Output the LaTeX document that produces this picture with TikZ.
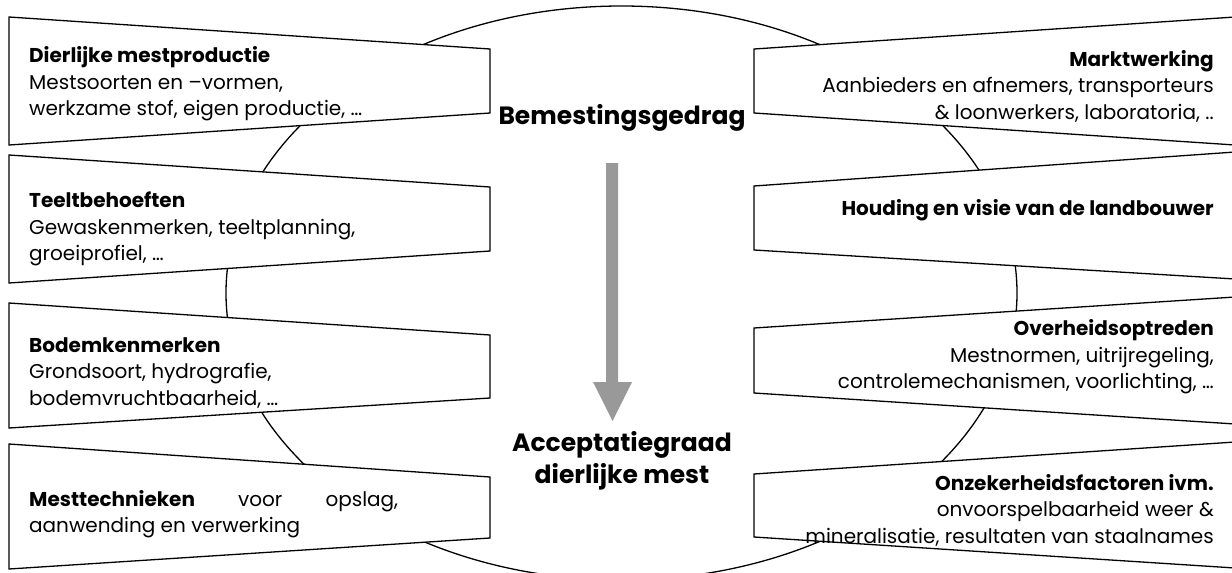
\documentclass[tikz,border=0pt]{standalone}
\usepackage{fontspec}
\setmainfont{Poppins}
\begin{document}
\begin{tikzpicture}[x=1pt,y=-1pt,
  boxshape/.style={draw=black,line width=1.3pt,fill=white,line join=miter},
  bodytext/.style={inner sep=0pt,font={\fontsize{20}{26.5}\selectfont}},
  lefttext/.style={bodytext,anchor=west,align=left},
  righttext/.style={bodytext,anchor=east,align=right},
  centertext/.style={inner sep=0pt,align=center,font={\fontsize{25}{32}\selectfont\bfseries}}]
\useasboundingbox (0,0) rectangle (1232,573);
\fill[white] (0,0) rectangle (1232,573);
% ellipse behind
\draw[line width=1.3pt] (621.5,293) ellipse [x radius=395.5pt, y radius=287pt];
% left boxes
\draw[boxshape] (9,17) -- (490,49) -- (490,113) -- (9,145) -- cycle;
\draw[boxshape] (9,155) -- (490,187) -- (490,251) -- (9,283) -- cycle;
\draw[boxshape] (9,303) -- (490,335) -- (490,398) -- (9,428) -- cycle;
\draw[boxshape] (9,444) -- (490,477) -- (490,538) -- (9,569) -- cycle;
% right boxes
\draw[boxshape] (754,49) -- (1235,17) -- (1235,145) -- (754,113) -- cycle;
\draw[boxshape] (754,186) -- (1235,152) -- (1235,279) -- (754,250) -- cycle;
\draw[boxshape] (754,328) -- (1235,297) -- (1235,424) -- (754,393) -- cycle;
\draw[boxshape] (754,474) -- (1235,442) -- (1235,568) -- (754,537) -- cycle;
% arrow
\fill[fill={rgb,255:red,153;green,153;blue,153}] (606,163) -- (618,163) -- (618,382) -- (632,382) -- (612.5,421) -- (593,382) -- (606,382) -- cycle;
% center texts
\node[centertext] (beh) at (622,118) {Bemestingsgedrag};
\node[centertext] (acc) at (622,461) {Acceptatiegraad\\dierlijke mest};
% left texts
\node[lefttext] (l1) at (29,84) {\textbf{Dierlijke mestproductie}\\Mestsoorten en –vormen,\\werkzame stof, eigen productie, …};
\node[lefttext] (l2) at (29,229) {\textbf{Teeltbehoeften}\\Gewaskenmerken, teeltplanning,\\groeiprofiel, …};
\node[lefttext] (l3) at (29,373) {\textbf{Bodemkenmerken}\\Grondsoort, hydrografie,\\bodemvruchtbaarheid, …};
\node[bodytext,anchor=west,text width=369pt,align=justify] (l4) at (29,514) {\textbf{Mesttechnieken} voor opslag,\linebreak aanwending en verwerking};
% right texts
\node[righttext] (r1) at (1214,86) {\textbf{Marktwerking}\\Aanbieders en afnemers, transporteurs\\\& loonwerkers, laboratoria, ..};
\node[righttext] (r2) at (1214,210) {\textbf{Houding en visie van de landbouwer}};
\node[righttext] (r3) at (1214,357) {\textbf{Overheidsoptreden}\\Mestnormen, uitrijregeling,\\controlemechanismen, voorlichting, …};
\node[righttext] (r4) at (1214,510) {\textbf{Onzekerheidsfactoren ivm.}\\onvoorspelbaarheid weer \&\\mineralisatie, resultaten van staalnames};
\end{tikzpicture}
\end{document}
